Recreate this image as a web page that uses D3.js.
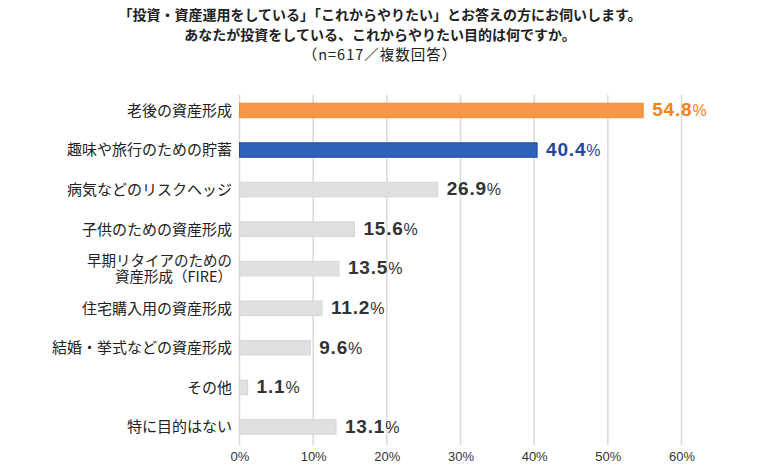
<!DOCTYPE html>
<html>
<head>
    <meta charset="utf-8">
    <script src="https://cdn.jsdelivr.net/npm/d3@7"></script>
    <style>
        body { margin: 0; background: #fff; }
        text { font-family: "Liberation Sans", Arial, "Noto Sans CJK JP", sans-serif; }
    </style>
</head>
<body>
    <script>
        var categories = [
            ['老後の資産形成'],
            ['趣味や旅行のための貯蓄'],
            ['病気などのリスクヘッジ'],
            ['子供のための資産形成'],
            ['早期リタイアのための', '資産形成（FIRE）'],
            ['住宅購入用の資産形成'],
            ['結婚・挙式などの資産形成'],
            ['その他'],
            ['特に目的はない']
        ];
        var values = [54.8, 40.4, 26.9, 15.6, 13.5, 11.2, 9.6, 1.1, 13.1];
        var ticks = [0, 10, 20, 30, 40, 50, 60];
        var titleLines = [
            '「投資・資産運用をしている」「これからやりたい」とお答えの方にお伺いします。',
            'あなたが投資をしている、これからやりたい目的は何ですか。',
            '（n=617／複数回答）'
        ];

        var width = 760, height = 469;
        var cjk = '"Noto Sans CJK JP", sans-serif';
        var rows = categories.map(function (c, i) { return { lines: c, value: values[i], i: i }; });

        var x = d3.scaleLinear().domain([0, 60]).range([239.5, 681.5]);
        var y = d3.scaleBand().domain(d3.range(rows.length))
            .range([90.7, 446.7]).paddingInner(0.634).paddingOuter(0.317);

        function barFill(d) { return d.i === 0 ? '#F79646' : d.i === 1 ? '#3060B8' : '#E0E0E0'; }
        function barStroke(d) { return d.i === 0 ? '#F08A36' : d.i === 1 ? '#1F4E9F' : '#D6D6D6'; }
        function labelColor(d) { return d.i === 0 ? '#F5821F' : d.i === 1 ? '#1F45A0' : '#333333'; }

        var svg = d3.select('body').append('svg')
            .attr('width', width).attr('height', height);

        // title
        svg.append('g').selectAll('text')
            .data(titleLines).enter().append('text')
            .attr('x', 380)
            .attr('y', function (d, i) { return 15 + i * 20; })
            .attr('dy', '0.36em')
            .attr('text-anchor', 'middle')
            .attr('font-size', function (d, i) { return i < 2 ? 14 : 14.5; })
            .attr('letter-spacing', function (d, i) { return i < 2 ? 0 : 1; })
            .attr('font-weight', function (d, i) { return i < 2 ? 'bold' : 'normal'; })
            .attr('fill', '#222')
            .style('font-family', cjk)
            .text(function (d) { return d; });

        // gridlines
        svg.append('g').selectAll('line')
            .data(ticks).enter().append('line')
            .attr('x1', x).attr('x2', x)
            .attr('y1', 95).attr('y2', 445)
            .attr('stroke', '#D9D9D9').attr('stroke-width', 1.5);

        // x axis labels
        var xAxis = d3.axisBottom(x).tickValues(ticks)
            .tickFormat(function (d) { return d + '%'; })
            .tickSize(0).tickPadding(0);
        var ax = svg.append('g').attr('transform', 'translate(0,452)').call(xAxis);
        ax.select('.domain').remove();
        ax.selectAll('text')
            .attr('font-size', 13).attr('fill', '#333')
            .style('font-family', '"Liberation Sans", Arial, sans-serif');

        // bars
        svg.append('g').selectAll('rect')
            .data(rows).enter().append('rect')
            .attr('x', x(0))
            .attr('y', function (d) { return y(d.i); })
            .attr('width', function (d) { return x(d.value) - x(0); })
            .attr('height', y.bandwidth())
            .attr('fill', barFill)
            .attr('stroke', barStroke)
            .attr('stroke-width', 1);

        // category labels
        var cat = svg.append('g').selectAll('text')
            .data(rows).enter().append('text')
            .attr('text-anchor', 'end')
            .attr('font-size', function (d) { return d.lines.length > 1 ? 14.5 : 15; })
            .attr('fill', '#222')
            .style('font-family', cjk);
        cat.selectAll('tspan')
            .data(function (d) {
                var n = d.lines.length;
                return d.lines.map(function (l, k) {
                    return { text: l, cy: y(d.i) + y.bandwidth() / 2 + (k - (n - 1) / 2) * 15.5 };
                });
            })
            .enter().append('tspan')
            .attr('x', 232)
            .attr('y', function (d) { return d.cy; })
            .attr('dy', '0.36em')
            .text(function (d) { return d.text; });

        // value labels
        var val = svg.append('g').selectAll('text')
            .data(rows).enter().append('text')
            .attr('x', function (d) { return x(d.value) + 9; })
            .attr('y', function (d) { return y(d.i) + y.bandwidth() / 2; })
            .attr('dy', '0.36em')
            .attr('fill', labelColor);
        val.append('tspan')
            .attr('font-size', 19).attr('font-weight', 'bold')
            .attr('letter-spacing', 0.8)
            .text(function (d) { return d.value.toFixed(1); });
        val.append('tspan')
            .attr('font-size', 16).attr('font-weight', 'normal')
            .text('%');
    </script>
</body>
</html>
